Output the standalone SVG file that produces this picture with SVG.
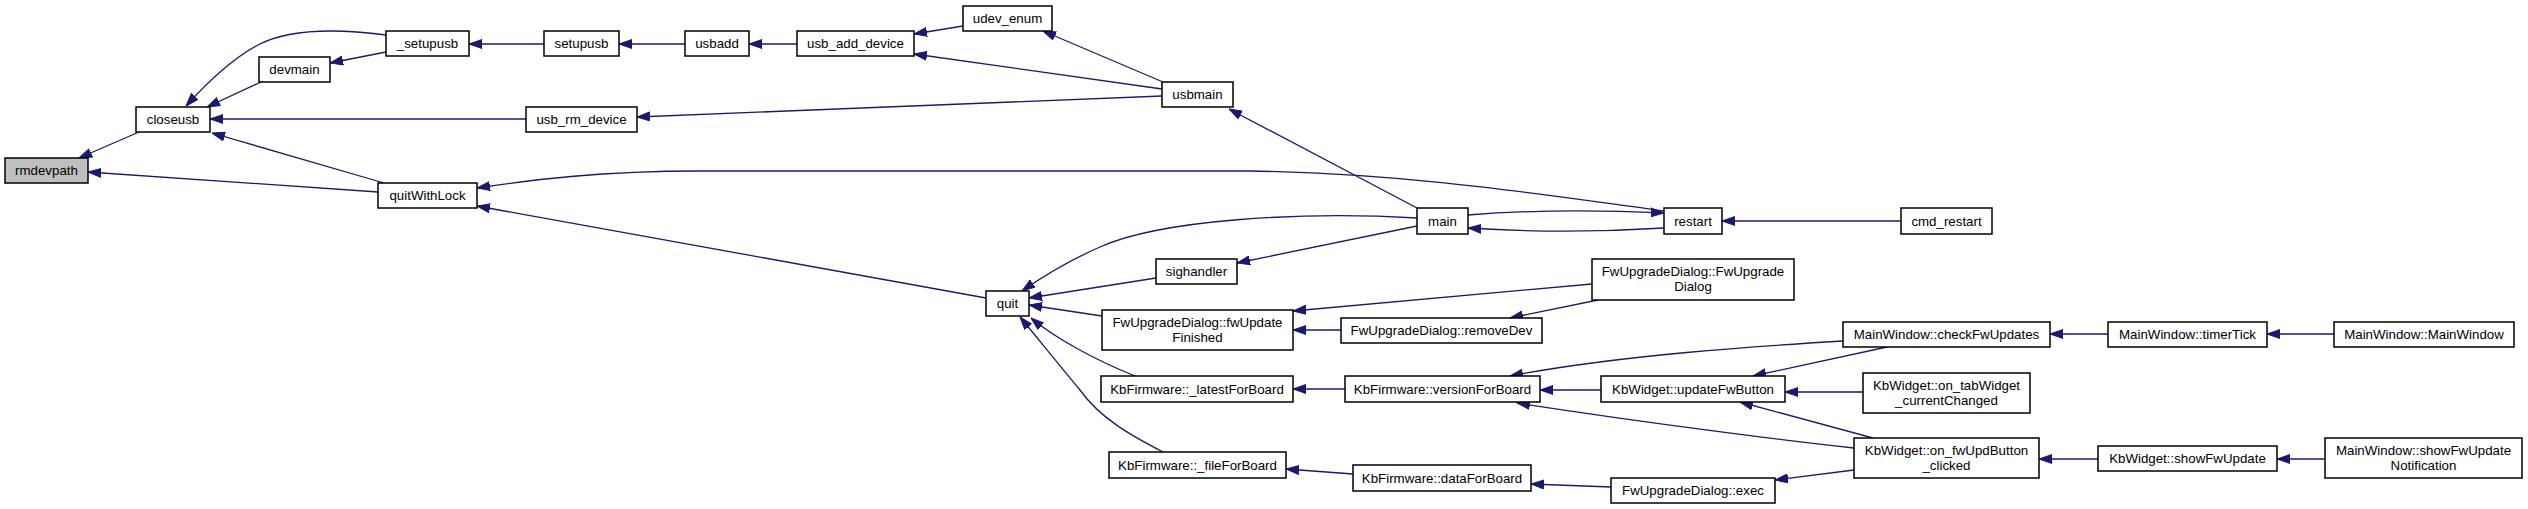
<svg xmlns="http://www.w3.org/2000/svg" width="2528" height="509" viewBox="0 0 2528 509">
<style>
.n rect{fill:#fff;stroke:#000;stroke-width:1.5}
.n.g rect{fill:#bfbfbf}
.n text{font-family:"Liberation Sans",Arial,sans-serif;font-size:13.3px;fill:#000;text-anchor:middle}
.e path{fill:none;stroke:#191970;stroke-width:1.3;marker-end:url(#ah)}
</style>
<defs>
<marker id="ah" viewBox="0 0 13 10" refX="13" refY="5" markerWidth="13" markerHeight="10" markerUnits="userSpaceOnUse" orient="auto"><path d="M0,0.5L13,5L0,9.5z" fill="#191970" stroke="#191970" stroke-width="1"/></marker>
</defs>
<rect width="2528" height="509" fill="#fff"/>
<g id="edges" class="e">
<path d="M139,132 L79,158"/>
<path d="M378,192 L88,172"/>
<path d="M386,35 C340,29 290,28 258,45 C230,60 205,85 186,106"/>
<path d="M261,82 L207,107"/>
<path d="M526,119 L210,119"/>
<path d="M384,183 L212,133"/>
<path d="M386,52 L330,63"/>
<path d="M544,44 L469,44"/>
<path d="M685,44 L619,44"/>
<path d="M797,44 L749,44"/>
<path d="M963,26 L914,34"/>
<path d="M1162,89 L914,54"/>
<path d="M1163,82 L1043,31"/>
<path d="M1162,96 L637,117"/>
<path d="M1417,208 L1229,109"/>
<path d="M1664,211 C1550,196 1420,174 1250,171 L700,171 C600,171 530,180 477,188"/>
<path d="M986,298 L477,206"/>
<path d="M1468,215 C1530,210 1600,210 1664,213"/>
<path d="M1664,228 C1600,232 1530,232 1468,228"/>
<path d="M1901,221 L1722,221"/>
<path d="M1417,218 C1300,211 1160,220 1100,247 C1070,260 1045,275 1022,291"/>
<path d="M1156,278 L1029,298"/>
<path d="M1417,226 L1237,263"/>
<path d="M1102,316 L1029,305"/>
<path d="M1135,376 C1095,360 1055,338 1031,318"/>
<path d="M1163,452 C1130,435 1100,418 1080,390 C1055,360 1035,335 1020,317"/>
<path d="M1592,284 L1293,311"/>
<path d="M1598,300 L1510,318"/>
<path d="M1341,330 L1293,330"/>
<path d="M1345,389 L1293,389"/>
<path d="M1601,390 L1540,390"/>
<path d="M1843,341 C1760,346 1620,355 1510,376"/>
<path d="M1887,347 L1753,376"/>
<path d="M1863,392 L1785,392"/>
<path d="M1873,438 L1740,402"/>
<path d="M1854,448 C1780,440 1640,422 1517,403"/>
<path d="M1854,470 L1775,480"/>
<path d="M2108,334 L2050,334"/>
<path d="M2334,334 L2267,334"/>
<path d="M2098,459 L2039,459"/>
<path d="M2325,459 L2277,459"/>
<path d="M1353,474 L1286,469"/>
<path d="M1611,487 L1531,484"/>
</g>
<g id="rmdevpath" class="n g"><rect x="5" y="158" width="83" height="25"/><text x="46.5" y="175">rmdevpath</text></g>
<g id="closeusb" class="n"><rect x="136" y="107" width="74" height="25"/><text x="173" y="124">closeusb</text></g>
<g id="devmain" class="n"><rect x="259" y="57" width="71" height="25"/><text x="294.5" y="74">devmain</text></g>
<g id="_setupusb" class="n"><rect x="386" y="31" width="83" height="25"/><text x="427.5" y="48">_setupusb</text></g>
<g id="setupusb" class="n"><rect x="544" y="31" width="75" height="25"/><text x="581.5" y="48">setupusb</text></g>
<g id="usbadd" class="n"><rect x="685" y="31" width="64" height="25"/><text x="717" y="48">usbadd</text></g>
<g id="usb_add_device" class="n"><rect x="797" y="31" width="117" height="25"/><text x="855.5" y="48">usb_add_device</text></g>
<g id="udev_enum" class="n"><rect x="963" y="6" width="89" height="25"/><text x="1007.5" y="23">udev_enum</text></g>
<g id="usbmain" class="n"><rect x="1162" y="82" width="71" height="25"/><text x="1197.5" y="99">usbmain</text></g>
<g id="usb_rm_device" class="n"><rect x="526" y="107" width="111" height="25"/><text x="581.5" y="124">usb_rm_device</text></g>
<g id="quitWithLock" class="n"><rect x="378" y="183" width="99" height="25"/><text x="427.5" y="200">quitWithLock</text></g>
<g id="main" class="n"><rect x="1417" y="208" width="51" height="26"/><text x="1442.5" y="225.5">main</text></g>
<g id="restart" class="n"><rect x="1664" y="208" width="58" height="26"/><text x="1693" y="225.5">restart</text></g>
<g id="cmd_restart" class="n"><rect x="1901" y="208" width="91" height="26"/><text x="1946.5" y="225.5">cmd_restart</text></g>
<g id="quit" class="n"><rect x="986" y="291" width="43" height="25"/><text x="1007.5" y="308">quit</text></g>
<g id="sighandler" class="n"><rect x="1156" y="259" width="81" height="25"/><text x="1196.5" y="276">sighandler</text></g>
<g id="fwUpdateFinished" class="n"><rect x="1102" y="310" width="191" height="40"/><text x="1197.5" y="327">FwUpgradeDialog::fwUpdate</text><text x="1197.5" y="342">Finished</text></g>
<g id="FwUpgradeDialog" class="n"><rect x="1592" y="259" width="202" height="41"/><text x="1693" y="276">FwUpgradeDialog::FwUpgrade</text><text x="1693" y="291">Dialog</text></g>
<g id="removeDev" class="n"><rect x="1341" y="318" width="201" height="25"/><text x="1441.5" y="335">FwUpgradeDialog::removeDev</text></g>
<g id="latestForBoard" class="n"><rect x="1101" y="376" width="192" height="26"/><text x="1197" y="393.5">KbFirmware::_latestForBoard</text></g>
<g id="versionForBoard" class="n"><rect x="1345" y="376" width="195" height="26"/><text x="1442.5" y="393.5">KbFirmware::versionForBoard</text></g>
<g id="updateFwButton" class="n"><rect x="1601" y="376" width="184" height="26"/><text x="1693" y="393.5">KbWidget::updateFwButton</text></g>
<g id="checkFwUpdates" class="n"><rect x="1843" y="322" width="207" height="25"/><text x="1946.5" y="339">MainWindow::checkFwUpdates</text></g>
<g id="timerTick" class="n"><rect x="2108" y="322" width="159" height="25"/><text x="2187.5" y="339">MainWindow::timerTick</text></g>
<g id="MainWindow" class="n"><rect x="2334" y="322" width="180" height="25"/><text x="2424" y="339">MainWindow::MainWindow</text></g>
<g id="on_tabWidget" class="n"><rect x="1863" y="373" width="167" height="40"/><text x="1946.5" y="390">KbWidget::on_tabWidget</text><text x="1946.5" y="405">_currentChanged</text></g>
<g id="on_fwUpdButton" class="n"><rect x="1854" y="438" width="185" height="40"/><text x="1946.5" y="455">KbWidget::on_fwUpdButton</text><text x="1946.5" y="470">_clicked</text></g>
<g id="showFwUpdate" class="n"><rect x="2098" y="446" width="179" height="25"/><text x="2187.5" y="463">KbWidget::showFwUpdate</text></g>
<g id="showFwUpdateNotification" class="n"><rect x="2325" y="438" width="197" height="40"/><text x="2423.5" y="455">MainWindow::showFwUpdate</text><text x="2423.5" y="470">Notification</text></g>
<g id="fileForBoard" class="n"><rect x="1109" y="452" width="177" height="26"/><text x="1197.5" y="469.5">KbFirmware::_fileForBoard</text></g>
<g id="dataForBoard" class="n"><rect x="1353" y="465" width="178" height="26"/><text x="1442" y="482.5">KbFirmware::dataForBoard</text></g>
<g id="exec" class="n"><rect x="1611" y="478" width="164" height="25"/><text x="1693" y="495">FwUpgradeDialog::exec</text></g>
</svg>
